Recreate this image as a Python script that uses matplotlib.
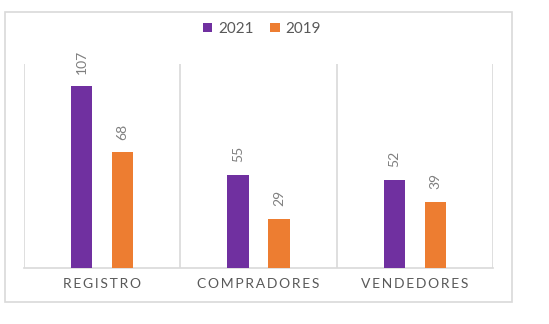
import matplotlib.pyplot as plt
from matplotlib.patches import Rectangle
import numpy as np

plt.rcParams['font.family'] = ['Lato', 'DejaVu Sans']

categories = ['REGISTRO', 'COMPRADORES', 'VENDEDORES']
series_names = ['2021', '2019']
values_2021 = [107, 55, 52]
values_2019 = [68, 29, 39]
colors = ['#7030A0', '#ED7D31']

fig = plt.figure(figsize=(5.49, 3.24), dpi=100)
ax = fig.add_axes([24 / 549, 56 / 324, 469 / 549, 204 / 324])

# outer chart border
fig.patches.append(Rectangle((5 / 549, 22 / 324), 507 / 549, 290 / 324,
                             transform=fig.transFigure, fill=False,
                             edgecolor='#D9D9D9', linewidth=1.2))

x = np.arange(len(categories))
w = 0.135
off = 0.131
for vals, name, c, sgn in [(values_2021, series_names[0], colors[0], -1),
                            (values_2019, series_names[1], colors[1], 1)]:
    bars = ax.bar(x + sgn * off, vals, w, color=c, label=name, zorder=3)
    for b, v in zip(bars, vals):
        ax.annotate(str(v), (b.get_x() + b.get_width() / 2, v),
                    xytext=(0, 9), textcoords='offset points',
                    rotation=90, ha='center', va='bottom',
                    fontsize=10, color='#7F7F7F')

ax.set_xlim(-0.5, 2.5)
ax.set_ylim(0, 120)
ax.set_yticks([])
for xv in [-0.5, 0.5, 1.5, 2.5]:
    ax.axvline(xv, color='#D9D9D9', linewidth=1.2, zorder=1)

for s in ['top', 'left', 'right']:
    ax.spines[s].set_visible(False)
ax.spines['bottom'].set_color('#D9D9D9')
ax.spines['bottom'].set_linewidth(1.2)

# spaced-out capitals like the original
ax.set_xticks(x)
ax.set_xticklabels(['\u2009'.join(c) for c in categories], fontsize=10,
                   color='#595959')
ax.tick_params(axis='x', length=0, pad=7.5)

leg = fig.legend(loc='center', bbox_to_anchor=(262 / 549, 1 - 29 / 324),
                 ncol=2, frameon=False, fontsize=11, handlelength=0.6,
                 handleheight=0.6, handletextpad=0.4, columnspacing=1.1)
for t in leg.get_texts():
    t.set_color('#595959')

fig.savefig('out.png', dpi=100)
